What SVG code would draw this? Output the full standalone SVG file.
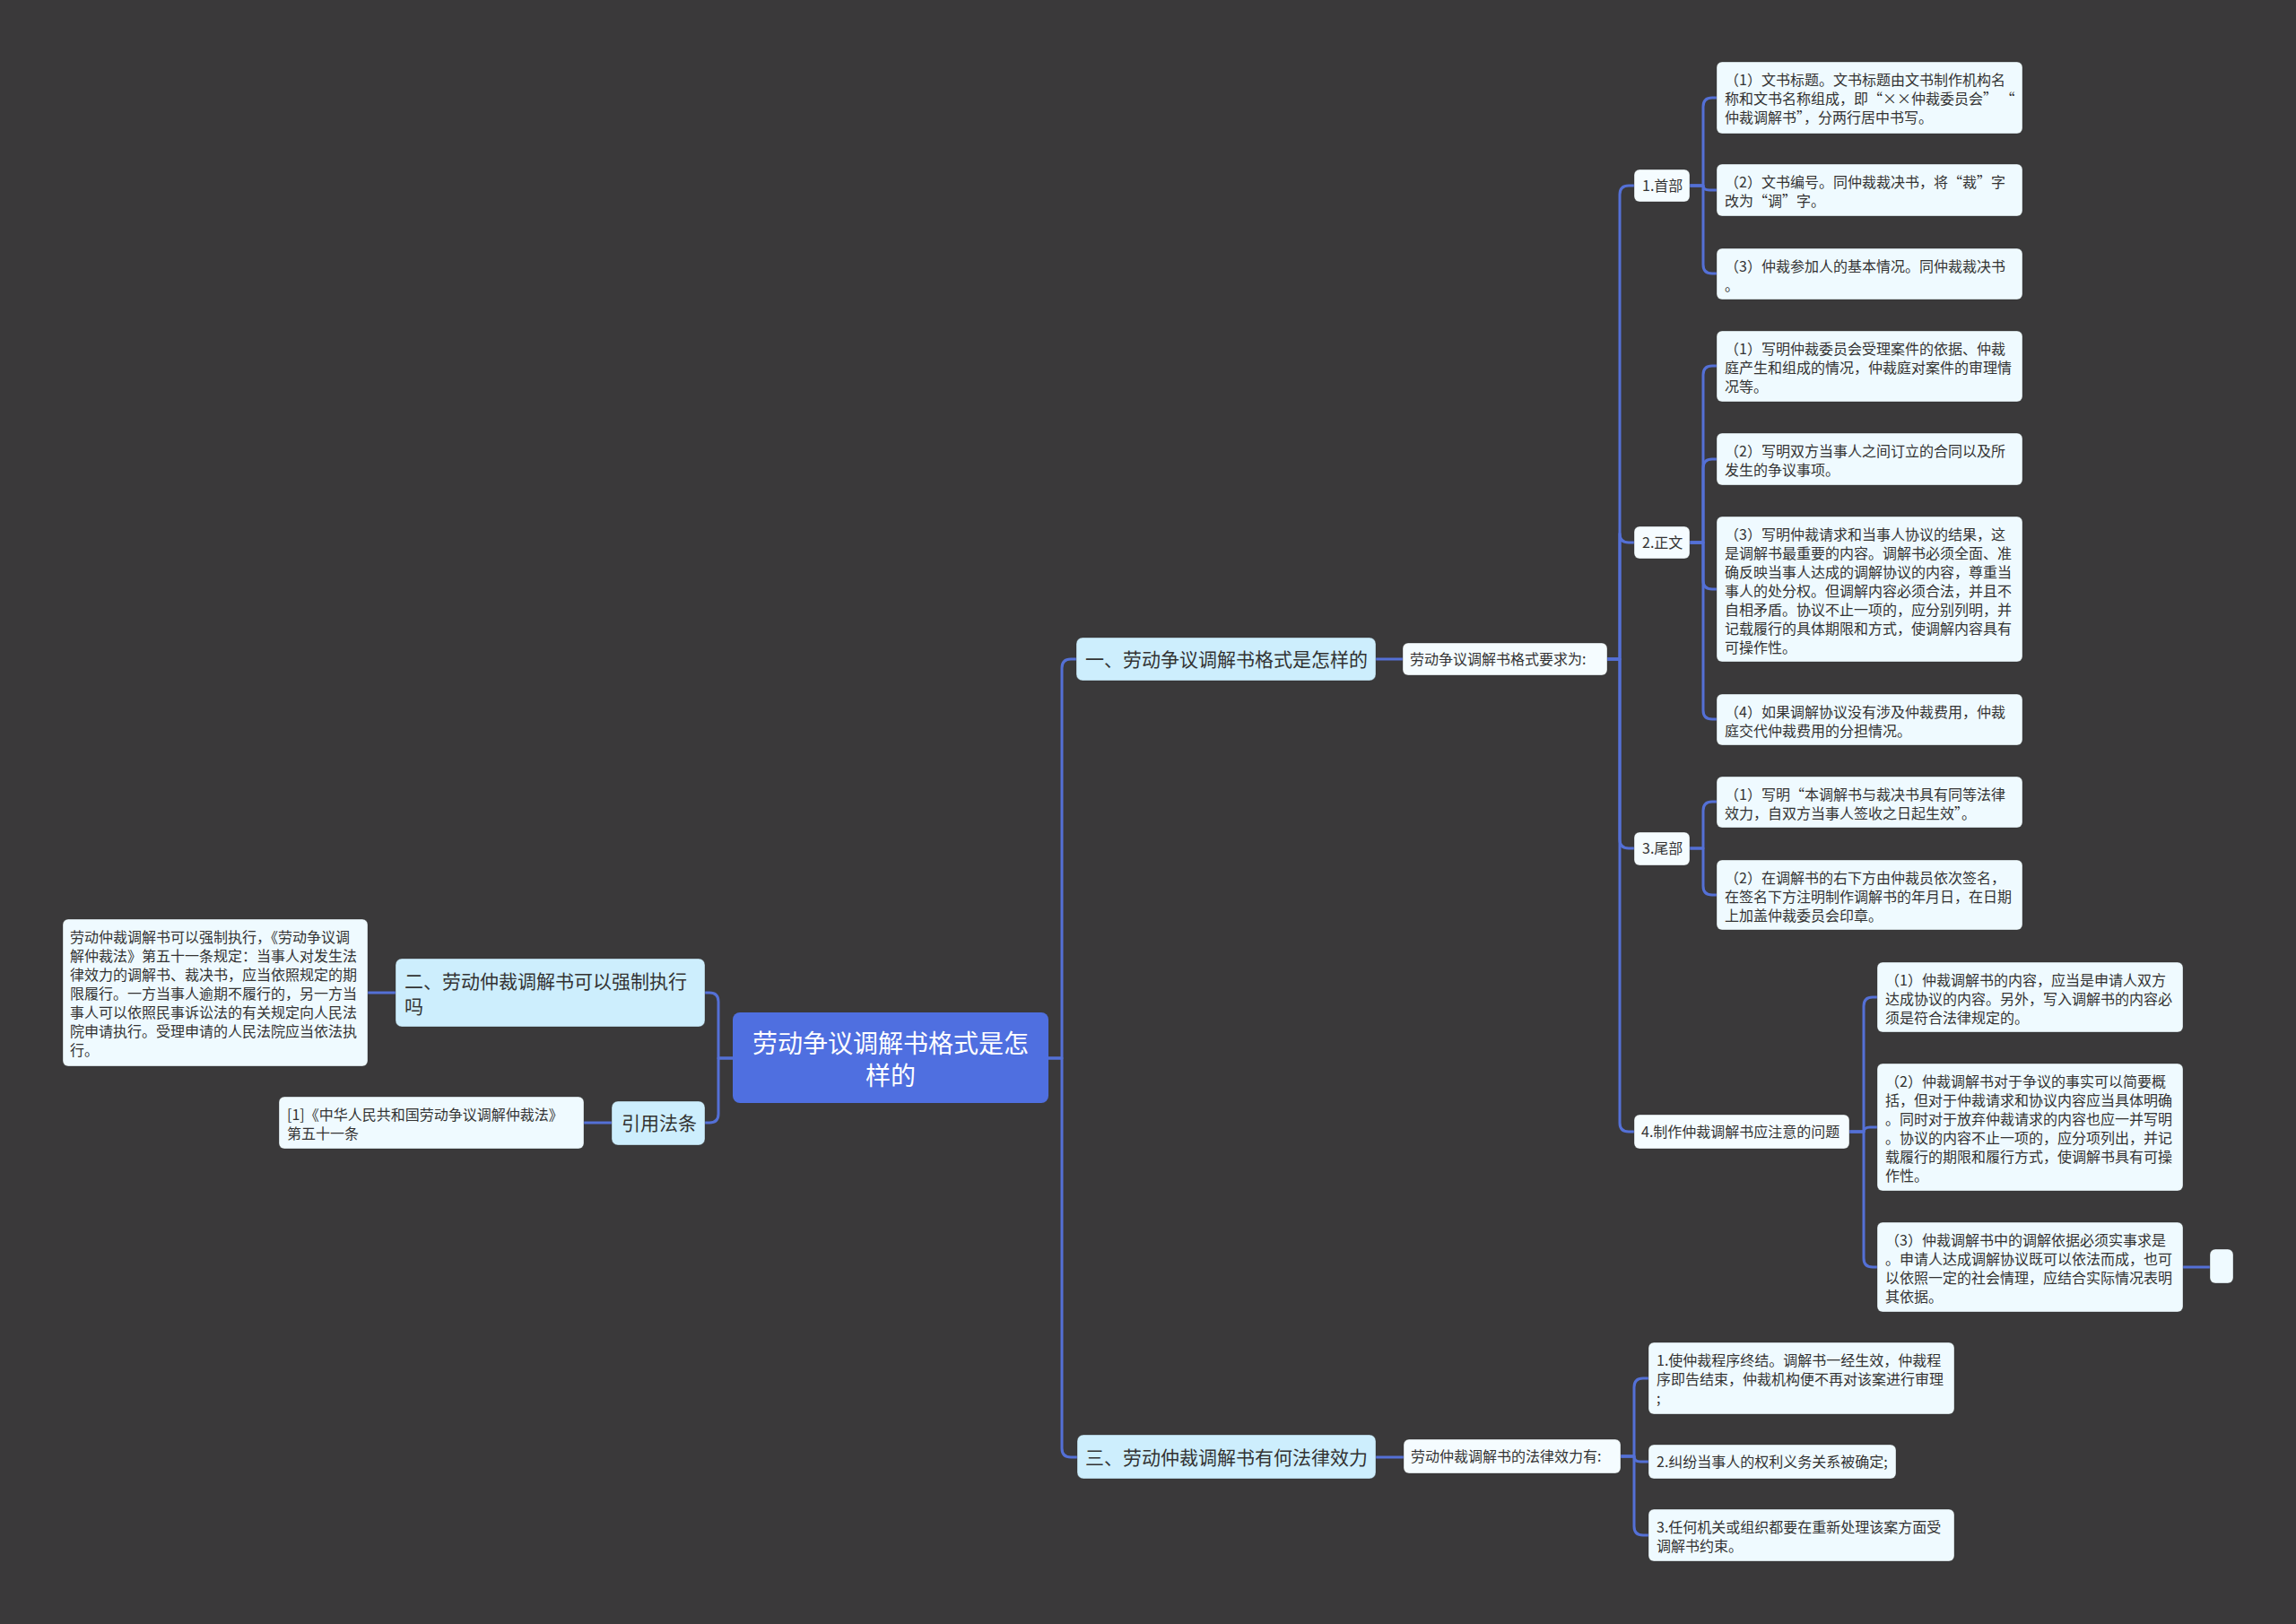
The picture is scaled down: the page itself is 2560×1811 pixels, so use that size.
<svg xmlns="http://www.w3.org/2000/svg" width="2560" height="1811" viewBox="0 0 2560 1811">
<style>
.bg{fill:#3a393a}
.c{fill:none;stroke:#5470d6;stroke-width:3;stroke-linecap:round;stroke-linejoin:round}
.n0{fill:#4f6fe0}
.n1{fill:#cdeefd;stroke:#2a2a2a;stroke-opacity:.35;stroke-width:1}
.n2{fill:#f5fcff;stroke:#2a2a2a;stroke-opacity:.35;stroke-width:1}
.lf{fill:#effaff;stroke:#2a2a2a;stroke-opacity:.35;stroke-width:1}
text{font-family:"Noto Sans CJK SC","Noto Sans",sans-serif;fill:#333}
.t16{font-size:16px}
.t21{font-size:21px}
.t28{font-size:28px;fill:#fff;text-anchor:middle}
</style>
<rect class="bg" x="0" y="0" width="2560" height="1811"/>

<g id="connectors">
  <path class="c" d="M1169,1180 H1184 V745 Q1184,735 1194,735 H1200"/>
  <path class="c" d="M1169,1180 H1184 V1615 Q1184,1625 1194,1625 H1201"/>
  <path class="c" d="M817,1180 H801 V1117 Q801,1107 791,1107 H786"/>
  <path class="c" d="M817,1180 H801 V1242 Q801,1252 791,1252 H786"/>
  <path class="c" d="M441,1107 H410"/>
  <path class="c" d="M682,1252 H651"/>
  <path class="c" d="M1534,735 H1564"/>
  <path class="c" d="M1792,735 H1806 V217 Q1806,207 1816,207 H1822"/>
  <path class="c" d="M1792,735 H1806 V595 Q1806,605 1816,605 H1822"/>
  <path class="c" d="M1792,735 H1806 V936 Q1806,946 1816,946 H1822"/>
  <path class="c" d="M1792,735 H1806 V1252 Q1806,1262 1816,1262 H1822"/>
  <path class="c" d="M1884,207 H1899 V119 Q1899,109 1909,109 H1914"/>
  <path class="c" d="M1884,207 H1899 Q1899,212 1906,212 H1914"/>
  <path class="c" d="M1884,207 H1899 V295 Q1899,305 1909,305 H1914"/>
  <path class="c" d="M1884,605 H1899 V418 Q1899,408 1909,408 H1914"/>
  <path class="c" d="M1884,605 H1899 V522 Q1899,512 1909,512 H1914"/>
  <path class="c" d="M1884,605 H1899 V647 Q1899,657 1909,657 H1914"/>
  <path class="c" d="M1884,605 H1899 V792 Q1899,802 1909,802 H1914"/>
  <path class="c" d="M1884,946 H1899 V904 Q1899,894 1909,894 H1914"/>
  <path class="c" d="M1884,946 H1899 V988 Q1899,998 1909,998 H1914"/>
  <path class="c" d="M2062,1262 H2078 V1122 Q2078,1112 2088,1112 H2093"/>
  <path class="c" d="M2062,1262 H2078 Q2078,1257 2085,1257 H2093"/>
  <path class="c" d="M2062,1262 H2078 V1403 Q2078,1413 2088,1413 H2093"/>
  <path class="c" d="M2434,1413 H2464"/>
  <path class="c" d="M1534,1625 H1565"/>
  <path class="c" d="M1807,1624 H1822 V1547 Q1822,1537 1832,1537 H1838"/>
  <path class="c" d="M1807,1624 H1822 Q1822,1630 1829,1630 H1838"/>
  <path class="c" d="M1807,1624 H1822 V1702 Q1822,1712 1832,1712 H1838"/>
</g>

<g id="root">
  <rect class="n0" x="817" y="1129" width="352" height="101" rx="8"/>
  <text class="t28" x="993" y="1174">劳动争议调解书格式是怎</text>
  <text class="t28" x="993" y="1210">样的</text>
</g>

<g id="b1">
  <rect class="n1" x="1200" y="711" width="334" height="48" rx="7"/>
  <text class="t21" x="1210" y="743">一、劳动争议调解书格式是怎样的</text>
</g>
<g id="b1-req">
  <rect class="n2" x="1564" y="717" width="228" height="36" rx="6"/>
  <text class="t16" x="1572" y="741">劳动争议调解书格式要求为:</text>
</g>

<g id="b1-1">
  <rect class="n2" x="1822" y="189" width="62" height="36" rx="6"/>
  <text class="t16" x="1831" y="213">1.首部</text>
</g>
<g id="b1-1-1">
  <rect class="lf" x="1914" y="69" width="341" height="80" rx="6"/>
  <text class="t16" x="1923" y="95">（1）文书标题。文书标题由文书制作机构名</text>
  <text class="t16" x="1923" y="116">称和文书名称组成，即“××仲裁委员会” “</text>
  <text class="t16" x="1923" y="137">仲裁调解书”，分两行居中书写。</text>
</g>
<g id="b1-1-2">
  <rect class="lf" x="1914" y="183" width="341" height="58" rx="6"/>
  <text class="t16" x="1923" y="209">（2）文书编号。同仲裁裁决书，将“裁”字</text>
  <text class="t16" x="1923" y="230">改为“调”字。</text>
</g>
<g id="b1-1-3">
  <rect class="lf" x="1914" y="277" width="341" height="57" rx="6"/>
  <text class="t16" x="1923" y="303">（3）仲裁参加人的基本情况。同仲裁裁决书</text>
  <text class="t16" x="1923" y="324">。</text>
</g>

<g id="b1-2">
  <rect class="n2" x="1822" y="587" width="62" height="36" rx="6"/>
  <text class="t16" x="1831" y="611">2.正文</text>
</g>
<g id="b1-2-1">
  <rect class="lf" x="1914" y="369" width="341" height="79" rx="6"/>
  <text class="t16" x="1923" y="395">（1）写明仲裁委员会受理案件的依据、仲裁</text>
  <text class="t16" x="1923" y="416">庭产生和组成的情况，仲裁庭对案件的审理情</text>
  <text class="t16" x="1923" y="437">况等。</text>
</g>
<g id="b1-2-2">
  <rect class="lf" x="1914" y="483" width="341" height="58" rx="6"/>
  <text class="t16" x="1923" y="509">（2）写明双方当事人之间订立的合同以及所</text>
  <text class="t16" x="1923" y="530">发生的争议事项。</text>
</g>
<g id="b1-2-3">
  <rect class="lf" x="1914" y="576" width="341" height="162" rx="6"/>
  <text class="t16" x="1923" y="602">（3）写明仲裁请求和当事人协议的结果，这</text>
  <text class="t16" x="1923" y="623">是调解书最重要的内容。调解书必须全面、准</text>
  <text class="t16" x="1923" y="644">确反映当事人达成的调解协议的内容，尊重当</text>
  <text class="t16" x="1923" y="665">事人的处分权。但调解内容必须合法，并且不</text>
  <text class="t16" x="1923" y="686">自相矛盾。协议不止一项的，应分别列明，并</text>
  <text class="t16" x="1923" y="707">记载履行的具体期限和方式，使调解内容具有</text>
  <text class="t16" x="1923" y="728">可操作性。</text>
</g>
<g id="b1-2-4">
  <rect class="lf" x="1914" y="774" width="341" height="57" rx="6"/>
  <text class="t16" x="1923" y="800">（4）如果调解协议没有涉及仲裁费用，仲裁</text>
  <text class="t16" x="1923" y="821">庭交代仲裁费用的分担情况。</text>
</g>

<g id="b1-3">
  <rect class="n2" x="1822" y="928" width="62" height="37" rx="6"/>
  <text class="t16" x="1831" y="952">3.尾部</text>
</g>
<g id="b1-3-1">
  <rect class="lf" x="1914" y="866" width="341" height="57" rx="6"/>
  <text class="t16" x="1923" y="892">（1）写明“本调解书与裁决书具有同等法律</text>
  <text class="t16" x="1923" y="913">效力，自双方当事人签收之日起生效”。</text>
</g>
<g id="b1-3-2">
  <rect class="lf" x="1914" y="959" width="341" height="78" rx="6"/>
  <text class="t16" x="1923" y="985">（2）在调解书的右下方由仲裁员依次签名，</text>
  <text class="t16" x="1923" y="1006">在签名下方注明制作调解书的年月日，在日期</text>
  <text class="t16" x="1923" y="1027">上加盖仲裁委员会印章。</text>
</g>

<g id="b1-4">
  <rect class="n2" x="1822" y="1243" width="240" height="38" rx="6"/>
  <text class="t16" x="1830" y="1268">4.制作仲裁调解书应注意的问题</text>
</g>
<g id="b1-4-1">
  <rect class="lf" x="2093" y="1073" width="341" height="78" rx="6"/>
  <text class="t16" x="2102" y="1099">（1）仲裁调解书的内容，应当是申请人双方</text>
  <text class="t16" x="2102" y="1120">达成协议的内容。另外，写入调解书的内容必</text>
  <text class="t16" x="2102" y="1141">须是符合法律规定的。</text>
</g>
<g id="b1-4-2">
  <rect class="lf" x="2093" y="1186" width="341" height="142" rx="6"/>
  <text class="t16" x="2102" y="1212">（2）仲裁调解书对于争议的事实可以简要概</text>
  <text class="t16" x="2102" y="1233">括，但对于仲裁请求和协议内容应当具体明确</text>
  <text class="t16" x="2102" y="1254">。同时对于放弃仲裁请求的内容也应一并写明</text>
  <text class="t16" x="2102" y="1275">。协议的内容不止一项的，应分项列出，并记</text>
  <text class="t16" x="2102" y="1296">载履行的期限和履行方式，使调解书具有可操</text>
  <text class="t16" x="2102" y="1317">作性。</text>
</g>
<g id="b1-4-3">
  <rect class="lf" x="2093" y="1363" width="341" height="100" rx="6"/>
  <text class="t16" x="2102" y="1389">（3）仲裁调解书中的调解依据必须实事求是</text>
  <text class="t16" x="2102" y="1410">。申请人达成调解协议既可以依法而成，也可</text>
  <text class="t16" x="2102" y="1431">以依照一定的社会情理，应结合实际情况表明</text>
  <text class="t16" x="2102" y="1452">其依据。</text>
</g>
<g id="b1-4-3-x">
  <rect class="lf" x="2464" y="1393" width="26" height="38" rx="6"/>
</g>

<g id="b3">
  <rect class="n1" x="1201" y="1600" width="333" height="49" rx="7"/>
  <text class="t21" x="1210" y="1633">三、劳动仲裁调解书有何法律效力</text>
</g>
<g id="b3-req">
  <rect class="n2" x="1565" y="1605" width="242" height="38" rx="6"/>
  <text class="t16" x="1573" y="1630">劳动仲裁调解书的法律效力有:</text>
</g>
<g id="b3-1">
  <rect class="lf" x="1838" y="1497" width="341" height="80" rx="6"/>
  <text class="t16" x="1847" y="1523">1.使仲裁程序终结。调解书一经生效，仲裁程</text>
  <text class="t16" x="1847" y="1544">序即告结束，仲裁机构便不再对该案进行审理</text>
  <text class="t16" x="1847" y="1565">;</text>
</g>
<g id="b3-2">
  <rect class="lf" x="1838" y="1611" width="276" height="38" rx="6"/>
  <text class="t16" x="1847" y="1636">2.纠纷当事人的权利义务关系被确定;</text>
</g>
<g id="b3-3">
  <rect class="lf" x="1838" y="1683" width="341" height="58" rx="6"/>
  <text class="t16" x="1847" y="1709">3.任何机关或组织都要在重新处理该案方面受</text>
  <text class="t16" x="1847" y="1730">调解书约束。</text>
</g>

<g id="b2">
  <rect class="n1" x="441" y="1069" width="345" height="76" rx="7"/>
  <text class="t21" x="451" y="1102">二、劳动仲裁调解书可以强制执行</text>
  <text class="t21" x="451" y="1130">吗</text>
</g>
<g id="b2-1">
  <rect class="lf" x="70" y="1025" width="340" height="164" rx="6"/>
  <text class="t16" x="78" y="1051">劳动仲裁调解书可以强制执行，《劳动争议调</text>
  <text class="t16" x="78" y="1072">解仲裁法》第五十一条规定：当事人对发生法</text>
  <text class="t16" x="78" y="1093">律效力的调解书、裁决书，应当依照规定的期</text>
  <text class="t16" x="78" y="1114">限履行。一方当事人逾期不履行的，另一方当</text>
  <text class="t16" x="78" y="1135">事人可以依照民事诉讼法的有关规定向人民法</text>
  <text class="t16" x="78" y="1156">院申请执行。受理申请的人民法院应当依法执</text>
  <text class="t16" x="78" y="1177">行。</text>
</g>

<g id="ref">
  <rect class="n1" x="682" y="1228" width="104" height="49" rx="7"/>
  <text class="t21" x="693" y="1260">引用法条</text>
</g>
<g id="ref-1">
  <rect class="lf" x="311" y="1223" width="340" height="58" rx="6"/>
  <text class="t16" x="320" y="1249">[1]《中华人民共和国劳动争议调解仲裁法》</text>
  <text class="t16" x="320" y="1270">第五十一条</text>
</g>
</svg>
